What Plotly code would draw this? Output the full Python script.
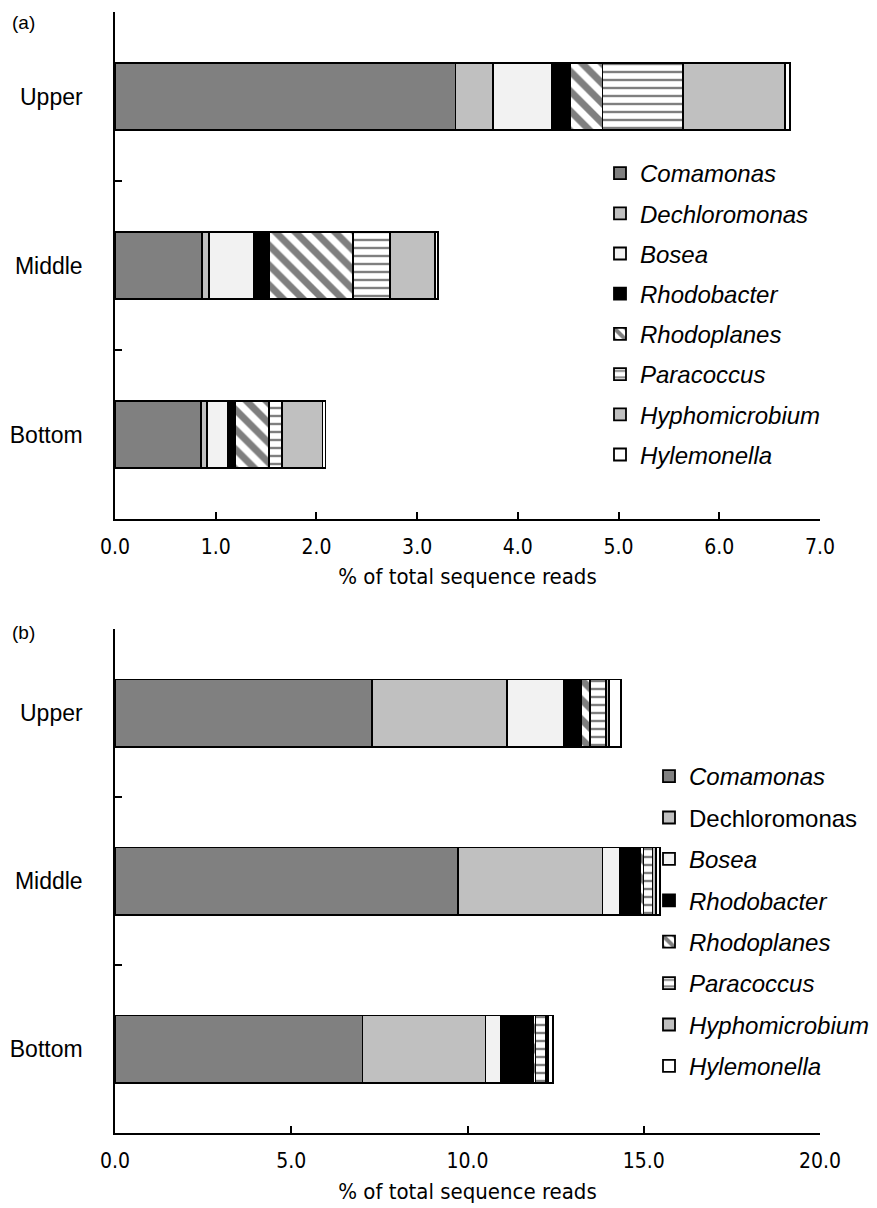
import plotly.graph_objects as go

# ---------------- data ----------------
depths = ["Upper", "Middle", "Bottom"]
genera = ["Comamonas", "Dechloromonas", "Bosea", "Rhodobacter",
          "Rhodoplanes", "Paracoccus", "Hyphomicrobium", "Hylemonella"]

# panel (a): % of total sequence reads, order = depths
a_Comamonas      = [3.38, 0.86, 0.85]
a_Dechloromonas  = [0.37, 0.07, 0.06]
a_Bosea          = [0.59, 0.45, 0.21]
a_Rhodobacter    = [0.18, 0.15, 0.07]
a_Rhodoplanes    = [0.32, 0.83, 0.34]
a_Paracoccus     = [0.80, 0.37, 0.13]
a_Hyphomicrobium = [1.01, 0.45, 0.40]
a_Hylemonella    = [0.05, 0.03, 0.03]

# panel (b)
b_Comamonas      = [7.30, 9.72, 7.02]
b_Dechloromonas  = [3.81, 4.11, 3.49]
b_Bosea          = [1.63, 0.50, 0.43]
b_Rhodobacter    = [0.47, 0.56, 0.93]
b_Rhodoplanes    = [0.26, 0.10, 0.06]
b_Paracoccus     = [0.45, 0.26, 0.29]
b_Hyphomicrobium = [0.09, 0.09, 0.06]
b_Hylemonella    = [0.34, 0.12, 0.14]

a_values = [a_Comamonas, a_Dechloromonas, a_Bosea, a_Rhodobacter,
            a_Rhodoplanes, a_Paracoccus, a_Hyphomicrobium, a_Hylemonella]
b_values = [b_Comamonas, b_Dechloromonas, b_Bosea, b_Rhodobacter,
            b_Rhodoplanes, b_Paracoccus, b_Hyphomicrobium, b_Hylemonella]

a_italic = [True] * 8
b_italic = [True, False, True, True, True, True, True, True]

a_ticks = [0, 1, 2, 3, 4, 5, 6, 7]
b_ticks = [0, 5, 10, 15, 20]
x_title = "% of total sequence reads"

# ---------------- styles ----------------
fills = ["#808080", "#c0c0c0", "#f2f2f2", "#000000",
         "#ffffff", "#ffffff", "#c0c0c0", "#ffffff"]
patterns = ["", "", "", "", "\\", "-", "", ""]
pat_size = [8, 8, 8, 8, 14, 8, 8, 8]
pat_solid = [0.3, 0.3, 0.3, 0.3, 0.5, 0.3, 0.3, 0.3]

LAB_FONT = "Liberation Sans, Arial, sans-serif"
NUM_FONT = "Liberation Sans Narrow, Arial Narrow, DejaVu Sans Condensed, sans-serif"

fig = go.Figure()


def add_panel(values, italics, xa, ya, legend):
    for i, g in enumerate(genera):
        name = f"<i>{g}</i>" if italics[i] else g
        marker = dict(color=fills[i], line=dict(color="black", width=1.8))
        if patterns[i]:
            marker["pattern"] = dict(shape=patterns[i], fgcolor="black",
                                     bgcolor="white", size=pat_size[i],
                                     solidity=pat_solid[i], fillmode="overlay")
        fig.add_trace(go.Bar(
            y=depths, x=values[i], orientation="h", name=name,
            marker=marker, width=0.4, xaxis=xa, yaxis=ya,
            legend=legend, legendgroup=legend + g,
        ))


add_panel(a_values, a_italic, "x", "y", "legend")
add_panel(b_values, b_italic, "x2", "y2", "legend2")

W, H = 877, 1208
ml, mr, mt, mb = 115, 57, 12, 75
pw = W - ml - mr
ph = H - mt - mb
a_bottom_px, b_top_px = 519, 629
dom_a = [1 - (a_bottom_px - mt) / ph, 1]
dom_b = [0, 1 - (b_top_px - mt) / ph]

xcommon = dict(showline=True, linecolor="black", linewidth=1.5,
               ticks="inside", ticklen=7, tickwidth=1.5, tickcolor="black",
               showgrid=False, zeroline=False, tickformat=".1f",
               tickfont=dict(family=NUM_FONT, size=21, color="black"),
               ticklabelstandoff=8)
ycommon = dict(type="category", categoryorder="array",
               categoryarray=depths[::-1], range=[-0.5, 2.5],
               showline=True, linecolor="black", linewidth=1.5,
               ticks="inside", ticklen=7, tickwidth=1.5, tickcolor="black",
               tickson="boundaries", showgrid=False, zeroline=False,
               tickfont=dict(family=LAB_FONT, size=23, color="black"),
               ticklabelstandoff=26)

legfont = dict(family=LAB_FONT, size=24, color="black")

fig.update_layout(
    width=W, height=H,
    margin=dict(l=ml, r=mr, t=mt, b=mb, autoexpand=False),
    paper_bgcolor="white", plot_bgcolor="white",
    barmode="stack", bargap=0.6,
    xaxis=dict(xcommon, anchor="y", domain=[0, 1], range=[0, 7],
               tickvals=a_ticks, automargin=False,
               title=dict(text=x_title, standoff=11,
                          font=dict(family=NUM_FONT, size=22, color="black"))),
    yaxis=dict(ycommon, anchor="x", domain=dom_a, automargin=False),
    xaxis2=dict(xcommon, anchor="y2", domain=[0, 1], range=[0, 20],
                tickvals=b_ticks, automargin=False,
                title=dict(text=x_title, standoff=12,
                           font=dict(family=NUM_FONT, size=22, color="black"))),
    yaxis2=dict(ycommon, anchor="x2", domain=dom_b, automargin=False),
    legend=dict(font=legfont, bgcolor="rgba(0,0,0,0)", tracegroupgap=6,
                xanchor="left", yanchor="top", itemclick=False,
                x=(600 - ml) / pw, y=(H - mb - 151) / ph),
    legend2=dict(font=legfont, bgcolor="rgba(0,0,0,0)", tracegroupgap=7.2,
                 xanchor="left", yanchor="top", itemclick=False,
                 x=(649 - ml) / pw, y=(H - mb - 754) / ph),
    showlegend=True,
)

fig.add_annotation(text="(a)", xref="paper", yref="paper",
                   x=(10 - ml) / pw, y=(H - mb - 22) / ph,
                   xanchor="left", yanchor="middle", showarrow=False,
                   font=dict(family=LAB_FONT, size=19, color="black"))
fig.add_annotation(text="(b)", xref="paper", yref="paper",
                   x=(10 - ml) / pw, y=(H - mb - 632) / ph,
                   xanchor="left", yanchor="middle", showarrow=False,
                   font=dict(family=LAB_FONT, size=19, color="black"))

fig.write_html("out.html")
